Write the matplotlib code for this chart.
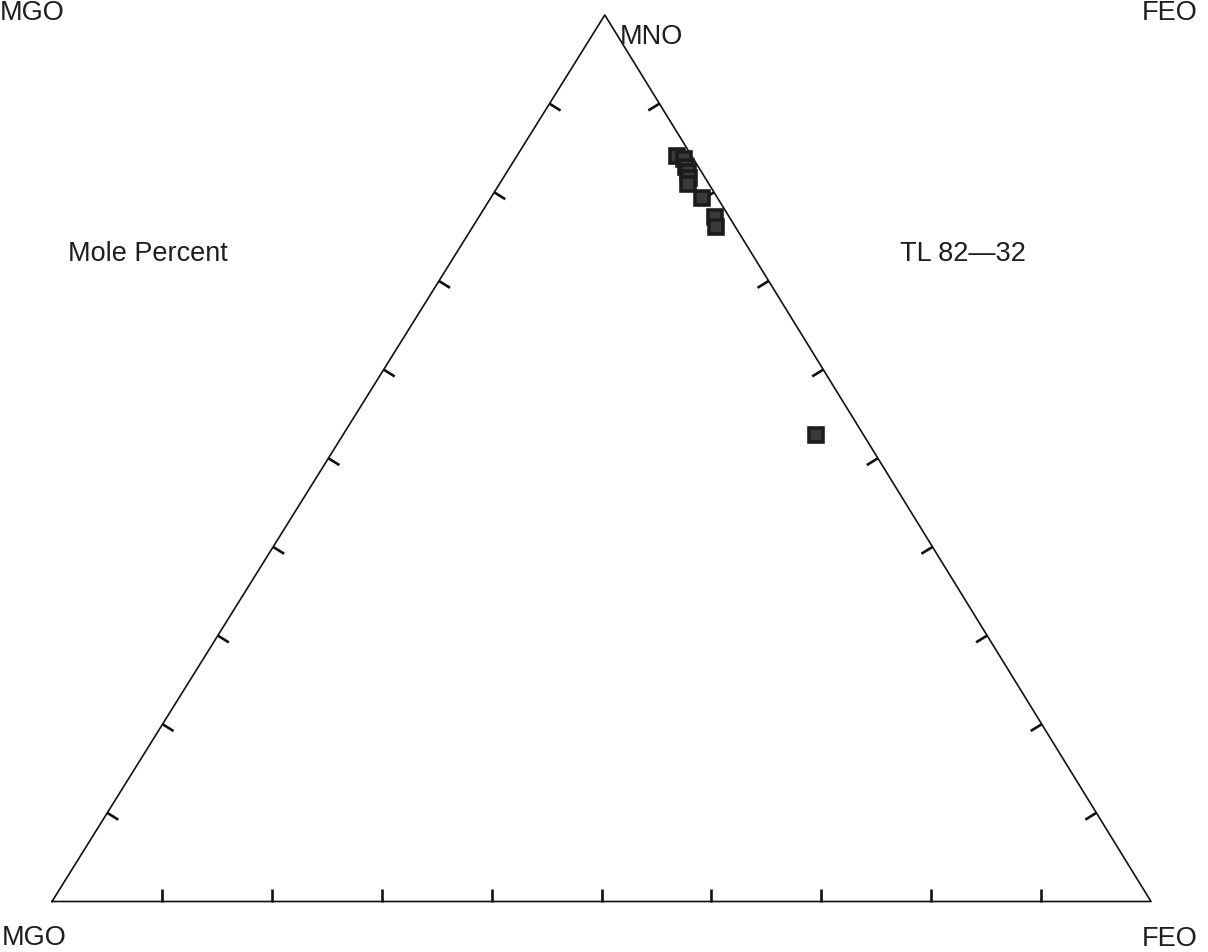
import matplotlib
matplotlib.use("Agg")
import matplotlib.pyplot as plt
import numpy as np

# compositions in mole percent
mno = [84.1, 83.7, 82.9, 82.3, 81.6, 80.9, 79.4, 77.2, 76.1, 52.6]
feo = [14.6, 15.4, 16.0, 16.5, 16.9, 17.2, 19.2, 21.5, 22.1, 43.1]
mgo = [100 - a - b for a, b in zip(mno, feo)]

tick_fracs = [0.1, 0.2, 0.3, 0.4, 0.5, 0.6, 0.7, 0.8, 0.9]

W, H = 1208, 952
H_TRI = np.sqrt(3) / 2

plt.rcParams['font.family'] = ['Liberation Sans', 'DejaVu Sans']

fig = plt.figure(figsize=(W / 100, H / 100), dpi=100)
ax = fig.add_axes([0, 0, 1, 1])
ax.axis('off')

# place vertices: MGO (52, 901.5), FEO (1151, 901.5), MNO (605, 15) in pixels
sx = 1099.0
sy = 886.5 / H_TRI
ax.set_xlim(-52 / sx, (W - 52) / sx)
ax.set_ylim(-(H - 901.5) / sy, H_TRI + 15 / sy)


def tern(mg, fe, mn):
    s = mg + fe + mn
    fe, mn = fe / s, mn / s
    return fe + 0.503 * mn, mn * H_TRI


corners = [tern(1, 0, 0), tern(0, 1, 0), tern(0, 0, 1), tern(1, 0, 0)]
ax.plot([c[0] for c in corners], [c[1] for c in corners], color='#111111', lw=1.2)

# inward ticks, perpendicular to each edge in display space
to_px = ax.transData
to_data = ax.transData.inverted()
tlen = 13
centroid = np.array(to_px.transform(tern(1, 1, 1)))


def edge_ticks(p0, p1):
    a = np.array(to_px.transform(p0))
    b = np.array(to_px.transform(p1))
    d = (b - a) / np.linalg.norm(b - a)
    n = np.array([-d[1], d[0]])
    if np.dot(centroid - a, n) < 0:
        n = -n
    for f in tick_fracs:
        p = a + f * (b - a)
        q = p + n * tlen
        pd = to_data.transform(p)
        qd = to_data.transform(q)
        ax.plot([pd[0], qd[0]], [pd[1], qd[1]], color='#111111', lw=1.9,
                solid_capstyle='butt')


edge_ticks(tern(1, 0, 0), tern(0, 1, 0))
edge_ticks(tern(1, 0, 0), tern(0, 0, 1))
edge_ticks(tern(0, 1, 0), tern(0, 0, 1))

xs, ys = zip(*[tern(a, b, c) for a, b, c in zip(mgo, feo, mno)])
ax.plot(xs, ys, linestyle='none', marker='s', markersize=10,
        markerfacecolor='#3a3a3a', markeredgecolor='#1c1c1c', markeredgewidth=2.6)


def label(x, y, s, ha='left'):
    fig.text(x / W, 1 - y / H, s, ha=ha, va='baseline', fontsize=19.5, color='#1e1e1e')


label(0, 20, 'MGO')
label(1198, 20, 'FEO', ha='right')
label(620, 44, 'MNO')
label(68, 261, 'Mole Percent')
label(900, 261, 'TL 82\u201432')
label(2, 945, 'MGO')
label(1197, 946, 'FEO', ha='right')

fig.savefig('out.png', dpi=100, facecolor='white')
